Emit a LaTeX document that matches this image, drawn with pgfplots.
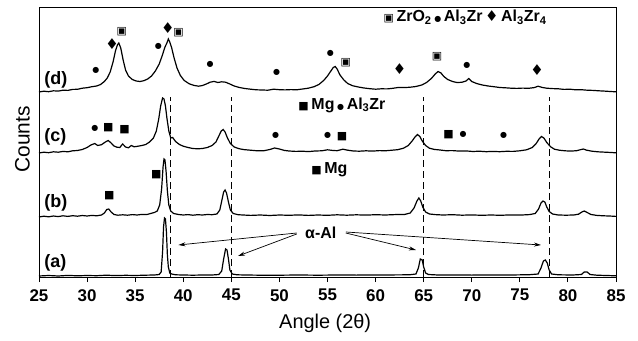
\documentclass[border=0pt]{standalone}
\usepackage{fontspec}
\setmainfont{Liberation Sans}
\newfontfamily\sym{DejaVu Sans}
\usepackage{pgfplots}
\pgfplotsset{compat=1.18}
\usetikzlibrary{arrows.meta}
\begin{document}
\begin{tikzpicture}
\useasboundingbox (-39bp,-64bp) rectangle (599bp,277bp);
\begin{axis}[
  scale only axis, width=577bp, height=270bp,
  xmin=25, xmax=85, ymin=0, ymax=270,
  xtick={25,30,35,40,45,50,55,60,65,70,75,80,85},
  xticklabels={},
  ytick=\empty,
  tick align=outside, major tick length=5bp,
  xtick pos=bottom,
  axis line style={line width=1pt},
  every tick/.style={line width=1pt, black},
  xlabel={Angle (2θ)},
  xlabel style={font=\fontsize{20}{20}\selectfont, at={(axis description cs:0.496,-0.125)}, anchor=north},
  ylabel={Counts},
  ylabel style={font=\fontsize{21}{21}\selectfont, at={(axis description cs:-0.010,0.51)}, anchor=south},
  clip=false,
]
% tick labels
\pgfplotsinvokeforeach{25,30,35,40,45,50,55,60,65,70,75,80,85}{
  \node[anchor=north, font=\bfseries\fontsize{17}{17}\selectfont, inner sep=0pt] at (axis cs:#1,-12) {#1};
}
% dashed reference lines
\addplot[black, line width=1.4pt, dash pattern=on 7bp off 4bp] coordinates {(38.7,0)(38.7,180)};
\addplot[black, line width=1.4pt, dash pattern=on 7bp off 4bp] coordinates {(45,0)(45,180)};
\addplot[black, line width=1.4pt, dash pattern=on 7bp off 4bp] coordinates {(65,0)(65,180)};
\addplot[black, line width=1.4pt, dash pattern=on 7bp off 4bp] coordinates {(78.1,0)(78.1,180)};
% (a)
\addplot[black, line width=1.2pt] coordinates {
(25,1)(26,1.5)(27,1)(28,1.6)(29,1.2)(30,1.5)(31,1.3)(32,1.8)(33,1.4)(34,1.7)(35,1.5)(36,1.8)(37,2)(37.5,2.5)(37.7,5)
(37.85,25)(37.95,50)(38.05,59)(38.15,58)(38.25,45)(38.35,22)(38.45,10)(38.6,4)(38.8,3)(39.2,2.2)(40,2)(41,1.8)(42,2)(43,2)(43.7,2.5)
(44.0,6)(44.2,18)(44.4,28)(44.55,27)(44.7,18)(44.85,7)(45.1,3)(45.6,2.2)(46.5,2)(48,1.8)(50,1.8)(52,2)(54,1.8)(56,2)(58,1.9)(60,2)(62,2.1)(63.5,2.2)(64.2,3)
(64.45,9)(64.65,18)(64.85,17)(65.0,10)(65.2,4)(65.5,2.5)(66.5,2)(68,2)(70,1.9)(72,2)(74,2)(76,2.3)(76.9,3)
(77.2,9)(77.45,16)(77.65,17)(77.85,14)(78.05,7)(78.3,3)(79,2.2)(80.5,2)(81.4,2.5)(81.7,5)(82.0,5)(82.3,2.5)(83,1.8)(84,1.5)(85,1.2)};
% (b)
\addplot[black, line width=1.2pt] coordinates {
(25,60)(25.5,60.8)(26,60.2)(26.5,61)(27,60.4)(27.5,61.2)(28,60.6)(28.5,61.3)(29,60.8)(29.5,61.5)(30,61)(30.5,61.6)(31,61.2)(31.5,62)(31.8,64)
(32.05,67.5)(32.25,68)(32.5,65)(32.8,62.5)(33.2,61.8)(33.7,62.2)(34.2,61.8)(34.7,62.4)(35.2,62)(35.7,62.6)(36.2,62.4)(36.6,63.5)(37.0,64.5)(37.3,66)(37.55,72)
(37.75,88)(37.9,110)(38.0,118)(38.1,117)(38.22,105)(38.35,86)(38.5,72)(38.7,66)(39,63.5)(39.5,62.5)(40,62)(40.5,62.4)(41,61.8)(41.5,62.3)(42,62)(42.5,62.5)(43,62.3)(43.5,63)
(43.8,67)(44.0,76)(44.2,85)(44.35,87)(44.5,84)(44.7,75)(44.9,67)(45.2,63.5)(45.7,62.3)(46.2,62)(47,61.6)(48,62)(49,61.5)(50,62)(51,61.7)(52,62.1)(53,61.6)(54,62)(55,61.7)(56,62.2)(57,61.8)(58,62.2)(59,61.9)(60,62.3)(61,62)(62,62.4)(63,62.5)(63.6,64)
(64.0,69)(64.3,76)(64.5,79)(64.7,76)(64.9,70)(65.2,65)(65.6,63)(66.2,62.4)(67,62)(68,62.3)(69,61.8)(70,62.1)(71,61.7)(72,62)(73,61.7)(74,62.1)(75,61.9)(76,62.4)(76.6,63.5)
(76.95,68)(77.2,74)(77.4,76)(77.6,75)(77.8,70)(78.05,65.5)(78.4,63)(79,62)(79.8,61.8)(80.6,62)(81.1,62.8)(81.45,65)(81.7,66)(82.0,64.5)(82.4,62.5)(83,61.6)(83.7,61.2)(84.3,61)(85,60.6)};
% (c)
\addplot[black, line width=1.2pt] coordinates {
(25,124)(25.5,124.8)(26,124.3)(26.5,125.2)(27,124.8)(27.5,125.6)(28,125.2)(28.5,126.2)(29,126.5)(29.5,127.5)(30,129.5)(30.4,132)(30.8,133.5)(31.1,131.5)(31.5,132.3)(31.9,135)
(32.2,136.5)(32.5,134)(32.8,131)(33.1,129.8)(33.4,129.5)(33.7,133)(34.0,130)(34.3,129.2)(34.6,131.5)(34.9,130.2)(35.3,130.8)(35.7,131.5)(36.1,132.5)(36.5,135)(36.9,139)(37.2,146)
(37.45,158)(37.65,171)(37.85,179)(38.0,178)(38.15,171)(38.3,159)(38.5,146)(38.7,139)(38.9,139.5)(39.2,135.5)(39.6,132.5)(40,130.8)(40.5,129.5)(41,128.5)(41.5,128.2)(42,128.5)(42.5,129.5)(43,131.5)(43.4,135)
(43.7,141)(43.95,146)(44.15,147.5)(44.35,145)(44.6,139)(44.9,133.5)(45.3,130)(45.8,128.3)(46.3,127.4)(47,126.8)(47.7,126.2)(48.4,126.3)(49.0,127.5)(49.5,129)(50,128)(50.5,126.6)(51,126)(51.7,125.6)(52.4,125.8)(53,125.4)(53.7,126)(54.4,126.2)(55,127.2)(55.5,126.6)(56,126.3)(56.6,127.8)(57.1,126.8)(57.7,126)(58.3,125.8)(59,126.2)(59.7,125.9)(60.4,126.4)(61,126.2)(61.7,126.8)(62.3,127.3)(62.9,128.8)(63.4,131.5)
(63.8,136)(64.1,140)(64.35,142.5)(64.6,140.5)(64.85,136)(65.2,131.5)(65.6,128.8)(66.1,127.6)(66.7,127)(67.3,126.3)(68,126.4)(68.7,125.9)(69.4,126.1)(70.1,125.5)(70.8,125.8)(71.5,125.3)(72.2,125.6)(72.9,125.3)(73.6,125.7)(74.3,125.6)(75,126.2)(75.7,127.2)(76.3,129.5)
(76.7,133.5)(77.0,138)(77.25,140.5)(77.5,139)(77.8,134.5)(78.2,130.2)(78.6,127.8)(79.1,126.8)(79.7,126.2)(80.3,125.9)(80.9,126.3)(81.3,127.3)(81.6,128)(81.95,126.8)(82.5,125.8)(83.1,125.2)(83.7,124.9)(84.3,124.6)(85,124.2)};
% (d)
\addplot[black, line width=1.2pt] coordinates {
(25,185)(25.5,185.8)(26,185.3)(26.5,186.2)(27,185.9)(27.5,186.8)(28,186.6)(28.5,187.6)(29,187.7)(29.5,188.8)(30,189.3)(30.5,190.3)(31,191)(31.4,192.5)(31.8,195.5)(32.1,199)
(32.4,205)(32.7,215)(32.95,226)(33.15,232)(33.3,234)(33.5,229)(33.75,217)(34.0,207)(34.3,201)(34.7,197.5)(35.1,196)(35.5,195.5)(35.9,196.3)(36.3,198)(36.7,201)(37.1,206)(37.5,213)
(37.8,221)(38.1,230)(38.3,234)(38.45,238)(38.6,235)(38.8,229)(39.05,219)(39.35,209)(39.7,201.5)(40.1,196.5)(40.6,193.3)(41.1,191.6)(41.6,190.8)(42.0,191.5)(42.4,193)(42.8,194.8)(43.2,195.6)(43.6,194.5)(44.0,195.2)(44.4,194.8)(44.8,193.2)(45.3,191)
(45.8,189.6)(46.4,188.5)(47,187.8)(47.6,187.2)(48.2,187)(48.8,186.8)(49.4,187.8)(50,187.3)(50.6,187.1)(51.2,187.4)(51.8,187.2)(52.4,188)(53,188.8)(53.6,190.3)(54.1,192.5)(54.6,196.5)(55.0,201)
(55.35,206)(55.6,209.5)(55.8,210.5)(56.0,208)(56.3,202)(56.7,197)(57.1,193.5)(57.6,191.3)(58.2,190)(58.8,189)(59.4,188.3)(60,187.8)(60.6,188.2)(61.2,188.1)(61.8,188.7)(62.4,189.6)(63,189.4)(63.6,189.8)(64.2,190.5)(64.8,192)(65.3,194.5)
(65.8,198.5)(66.2,203)(66.5,205.5)(66.8,204)(67.1,200.5)(67.5,197.5)(68,195.5)(68.5,194.4)(69,194.8)(69.4,196)(69.7,198.5)(70.0,195.5)(70.5,193.5)(71.1,192)(71.7,191)(72.3,190.3)(72.9,189.5)(73.5,189.2)(74.1,188.8)(74.7,188.6)(75.3,188.9)(75.9,188.7)(76.5,189.4)(76.9,190.8)(77.3,189.6)(77.8,188.8)(78.4,188.4)(79,188.2)(79.6,187.6)(80.2,187.8)(80.8,187.2)(81.4,187.3)(82,186.8)(82.6,186.6)(83.2,186.2)(83.8,185.9)(84.4,185.5)(85,185.2)};
% curve labels
\node[anchor=west, font=\bfseries\fontsize{18}{18}\selectfont] at (axis cs:25.2,197) {(d)};
\node[anchor=west, font=\bfseries\fontsize{18}{18}\selectfont] at (axis cs:25.2,140) {(c)};
\node[anchor=west, font=\bfseries\fontsize{18}{18}\selectfont] at (axis cs:25.2,74) {(b)};
\node[anchor=west, font=\bfseries\fontsize{18}{18}\selectfont] at (axis cs:25.2,14) {(a)};
% (d) markers
\node[font=\sym\fontsize{8}{8}\selectfont] at (axis cs:30.9,207) {●};
\node[font=\sym\fontsize{15}{15}\selectfont] at (axis cs:32.6,233) {♦};
\node[font=\sym\fontsize{11}{11}\selectfont] at (axis cs:33.6,245) {▣};
\node[font=\sym\fontsize{8}{8}\selectfont] at (axis cs:37.4,231) {●};
\node[font=\sym\fontsize{15}{15}\selectfont] at (axis cs:38.4,249) {♦};
\node[font=\sym\fontsize{11}{11}\selectfont] at (axis cs:39.5,244) {▣};
\node[font=\sym\fontsize{8}{8}\selectfont] at (axis cs:42.8,213) {●};
\node[font=\sym\fontsize{8}{8}\selectfont] at (axis cs:49.7,205) {●};
\node[font=\sym\fontsize{8}{8}\selectfont] at (axis cs:55.3,224) {●};
\node[font=\sym\fontsize{11}{11}\selectfont] at (axis cs:56.9,214) {▣};
\node[font=\sym\fontsize{15}{15}\selectfont] at (axis cs:62.5,208) {♦};
\node[font=\sym\fontsize{11}{11}\selectfont] at (axis cs:66.4,220) {▣};
\node[font=\sym\fontsize{8}{8}\selectfont] at (axis cs:69.5,212) {●};
\node[font=\sym\fontsize{15}{15}\selectfont] at (axis cs:76.8,207) {♦};
% (c) markers
\node[font=\sym\fontsize{8}{8}\selectfont] at (axis cs:30.8,149) {●};
\node[font=\sym\fontsize{11}{11}\selectfont] at (axis cs:32.2,149) {■};
\node[font=\sym\fontsize{11}{11}\selectfont] at (axis cs:33.9,147) {■};
\node[font=\sym\fontsize{8}{8}\selectfont] at (axis cs:49.6,142) {●};
\node[font=\sym\fontsize{8}{8}\selectfont] at (axis cs:55.0,142) {●};
\node[font=\sym\fontsize{11}{11}\selectfont] at (axis cs:56.5,140) {■};
\node[font=\sym\fontsize{11}{11}\selectfont] at (axis cs:67.6,142) {■};
\node[font=\sym\fontsize{8}{8}\selectfont] at (axis cs:69.1,143) {●};
\node[font=\sym\fontsize{8}{8}\selectfont] at (axis cs:73.3,142) {●};
% (b) markers
\node[font=\sym\fontsize{11}{11}\selectfont] at (axis cs:32.3,81) {■};
\node[font=\sym\fontsize{11}{11}\selectfont] at (axis cs:37.2,102) {■};
% legends
\node[font=\bfseries\fontsize{16}{16}\selectfont] at (axis cs:69.3,260) {{\sym\mdseries\fontsize{11}{11}\selectfont ▣}\,ZrO\textsubscript{2}\,{\sym\fontsize{8}{8}\selectfont ●}\,Al\textsubscript{3}Zr\,{\sym\fontsize{15}{15}\selectfont ♦}\,Al\textsubscript{3}Zr\textsubscript{4}};
\node[font=\bfseries\fontsize{16}{16}\selectfont] at (axis cs:56.5,172) {{\sym\fontsize{11}{11}\selectfont ■}\,Mg\,{\sym\fontsize{8}{8}\selectfont ●}\,Al\textsubscript{3}Zr};
\node[font=\bfseries\fontsize{16}{16}\selectfont] at (axis cs:55.2,107) {{\sym\fontsize{11}{11}\selectfont ■}\,Mg};
\node[font=\bfseries\fontsize{16}{16}\selectfont] at (axis cs:54.3,44) {α-Al};
% arrows
\draw[-{Stealth[length=7bp,width=4bp]}, line width=0.7pt] (axis cs:51.8,44) -- (axis cs:39.5,32);
\draw[-{Stealth[length=7bp,width=4bp]}, line width=0.7pt] (axis cs:51.8,43) -- (axis cs:45.7,21);
\draw[-{Stealth[length=7bp,width=4bp]}, line width=0.7pt] (axis cs:56.9,44) -- (axis cs:64.2,27);
\draw[-{Stealth[length=7bp,width=4bp]}, line width=0.7pt] (axis cs:56.9,45) -- (axis cs:77.2,32);
\end{axis}
\end{tikzpicture}
\end{document}
